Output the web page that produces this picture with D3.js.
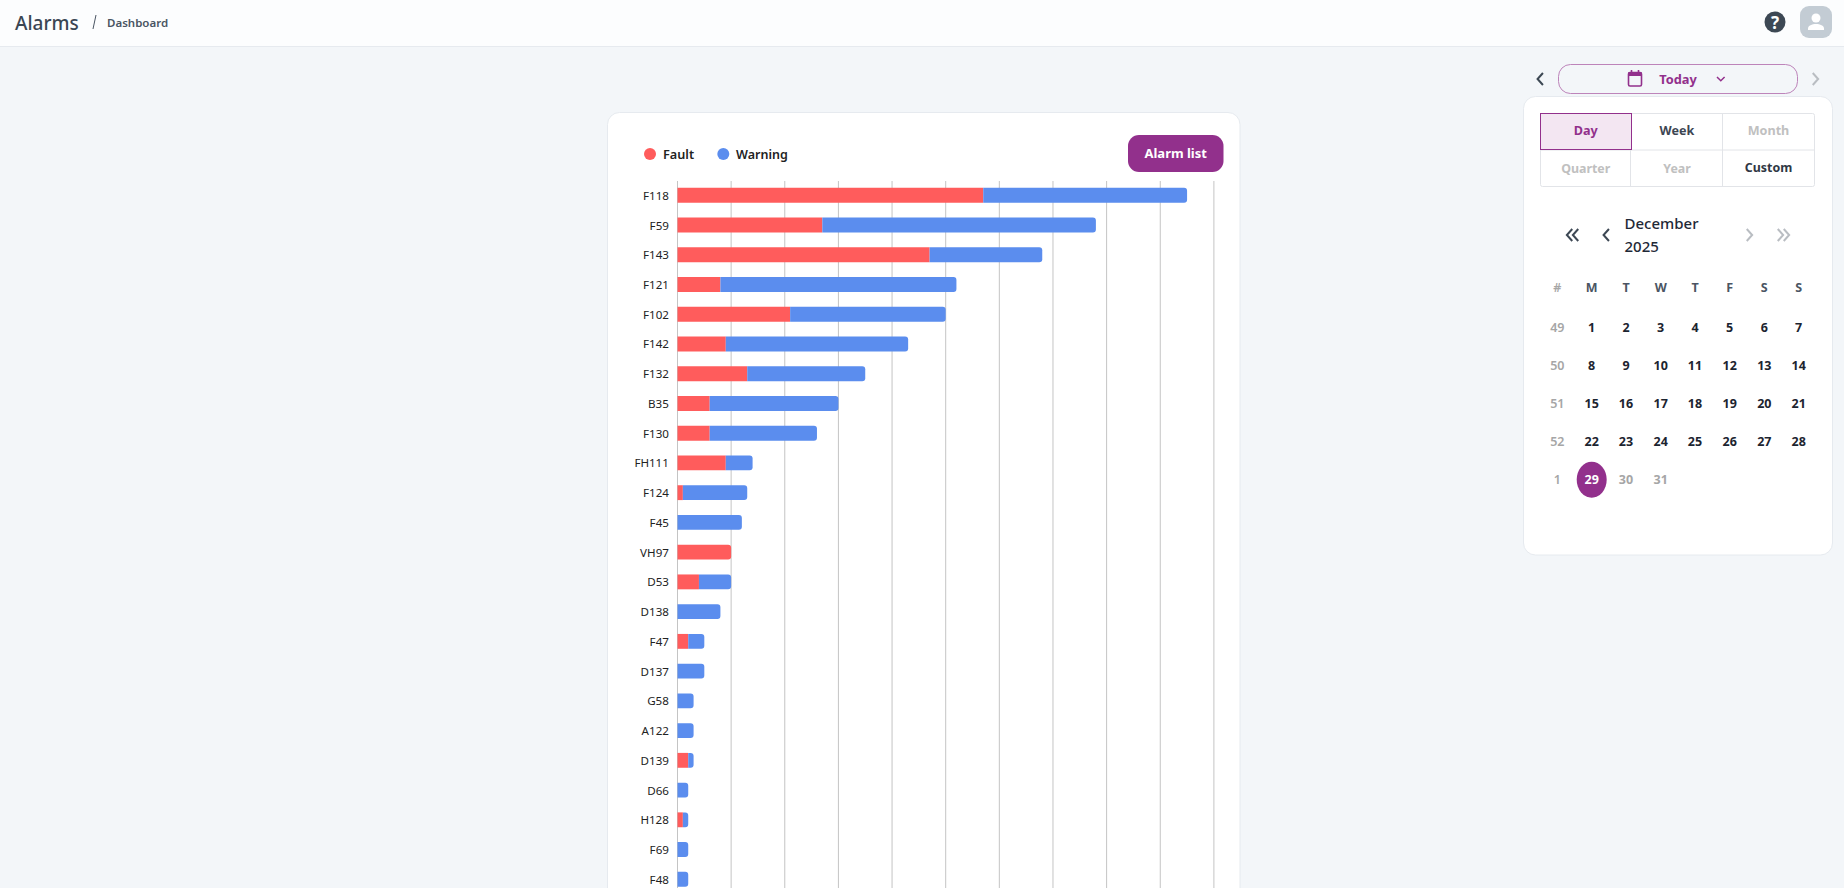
<!DOCTYPE html>
<html lang="en">
<head>
<meta charset="UTF-8" />
<title>Alarms</title>
<script src="https://cdnjs.cloudflare.com/ajax/libs/d3/7.8.5/d3.min.js"></script>
<style>
  html, body { margin: 0; padding: 0; background: #f3f6f9; overflow: hidden; }
  svg { display: block; font-family: "Noto Sans", sans-serif; }
  text { dominant-baseline: central; }
  .axis-y .domain, .axis-y .tick line { display: none; }
  .grid .domain { display: none; }
</style>
</head>
<body>
<div id="page"></div>
<script>
// chart values
const alarms = ['F118','F59','F143','F121','F102','F142','F132','B35','F130','FH111','F124','F45','VH97','D53','D138','F47','D137','G58','A122','D139','D66','H128','F69','F48'];
const faults = [57,27,47,8,21,9,13,6,6,9,1,0,10,4,0,2,0,0,0,2,0,1,0,0];
const warnings = [38,51,21,44,29,34,22,24,20,5,12,12,0,6,8,3,5,3,3,1,2,1,2,2];
const tickValues = [0,10,20,30,40,50,60,70,80,90,100];

// calendar values
const tabsTop = ['Day','Week','Month'];
const tabsBottom = ['Quarter','Year','Custom'];
const weekHeader = ['#','M','T','W','T','F','S','S'];
const weekNumbers = [49,50,51,52,1];
const dayRows = [[1,2,3,4,5,6,7],[8,9,10,11,12,13,14],[15,16,17,18,19,20,21],[22,23,24,25,26,27,28],[29,30,31]];

const PURPLE = '#92308c', RED = '#ff5c5c', BLUE = '#5b8dee';

const svg = d3.select('#page').append('svg').attr('width', 1844).attr('height', 888);

function txt(x, y, s, size, weight, fill, anchor) {
  return svg.append('text').attr('x', x).attr('y', y).text(s)
    .attr('font-size', size).attr('font-weight', weight).attr('fill', fill)
    .attr('text-anchor', anchor || 'middle');
}

function chevron(x, y, dir, color, w) {
  const s = 4.5 * dir;
  svg.append('path').attr('d', `M${x - s / 2},${y - 6}L${x + s / 2 + s * 0.2},${y}L${x - s / 2},${y + 6}`)
    .attr('fill', 'none').attr('stroke', color).attr('stroke-width', w || 2);
}

// header
svg.append('rect').attr('width', 1844).attr('height', 46).attr('fill', '#fcfdfe');
svg.append('line').attr('x1', 0).attr('x2', 1844).attr('y1', 46.5).attr('y2', 46.5).attr('stroke', '#e6eaef');
txt(15, 23, 'Alarms', 19, 500, '#3a4553', 'start');
svg.append('line').attr('x1', 96).attr('y1', 15).attr('x2', 93).attr('y2', 29).attr('stroke', '#4a5563');
txt(107, 22.5, 'Dashboard', 11.5, 600, '#4a5563', 'start');

svg.append('circle').attr('cx', 1775).attr('cy', 22).attr('r', 10.5).attr('fill', '#3d4854');
txt(1775, 22, '?', 17, 700, '#fff');
svg.append('rect').attr('x', 1800).attr('y', 6).attr('width', 32).attr('height', 32).attr('rx', 9).attr('fill', '#c3ccd4');
svg.append('circle').attr('cx', 1816).attr('cy', 18).attr('r', 4.5).attr('fill', '#fff');
svg.append('path').attr('d', 'M1808,30v-1.5c0,-3 4,-4.5 8,-4.5s8,1.5 8,4.5v1.5z').attr('fill', '#fff');

// chart card
svg.append('rect').attr('x', 607.5).attr('y', 112.5).attr('width', 632.5).attr('height', 820).attr('rx', 12)
  .attr('fill', '#fff').attr('stroke', '#e6eaef');

svg.append('circle').attr('cx', 650).attr('cy', 154).attr('r', 6).attr('fill', RED);
txt(663, 154, 'Fault', 12.7, 600, '#222', 'start');
svg.append('circle').attr('cx', 723.3).attr('cy', 154).attr('r', 6).attr('fill', BLUE);
txt(736, 154, 'Warning', 12.5, 600, '#222', 'start');

svg.append('rect').attr('x', 1128).attr('y', 135).attr('width', 95.5).attr('height', 37).attr('rx', 11).attr('fill', PURPLE);
txt(1175.7, 153, 'Alarm list', 13, 700, '#fff');

const x = d3.scaleLinear().domain([0, 100]).range([677, 1213.4]);
const y = d3.scaleBand().domain(alarms).range([180.4, 180.4 + 29.74 * alarms.length])
  .paddingInner(0.5).paddingOuter(0.25);

svg.append('g').attr('class', 'grid')
  .attr('transform', 'translate(0,181)')
  .call(d3.axisBottom(x).tickValues(tickValues).tickSize(707).tickFormat(''))
  .selectAll('.tick line').attr('stroke', '#c4c4c4').attr('stroke-width', 1);

const bh = y.bandwidth();

// right end of a stack is rounded, the left end stays square
function barPath(x0, x1, top, rounded) {
  const p = d3.path();
  const r = Math.min(3, x1 - x0);
  p.moveTo(x0, top);
  if (rounded) {
    p.lineTo(x1 - r, top);
    p.arcTo(x1, top, x1, top + r, r);
    p.lineTo(x1, top + bh - r);
    p.arcTo(x1, top + bh, x1 - r, top + bh, r);
  } else {
    p.lineTo(x1, top);
    p.lineTo(x1, top + bh);
  }
  p.lineTo(x0, top + bh);
  p.closePath();
  return p.toString();
}

// bars start just right of the zero line
const rows = svg.append('g').attr('transform', 'translate(0.5,0)').selectAll('g').data(alarms).join('g');
rows.filter((d, i) => faults[i] > 0).append('path')
  .attr('fill', RED)
  .attr('d', d => {
    const i = alarms.indexOf(d);
    return barPath(x(0), x(faults[i]), y(d), warnings[i] === 0);
  });
rows.filter((d, i) => warnings[i] > 0).append('path')
  .attr('fill', BLUE)
  .attr('d', d => {
    const i = alarms.indexOf(d);
    return barPath(x(faults[i]), x(faults[i] + warnings[i]), y(d), true);
  });

const axisY = svg.append('g').attr('class', 'axis-y')
  .attr('transform', 'translate(677.4,0)')
  .call(d3.axisLeft(y).tickSize(0).tickPadding(8.5));
axisY.selectAll('text').attr('font-size', 11.6).attr('fill', '#222').attr('dy', 0)
  .attr('font-family', '"Noto Sans", sans-serif');

// date selector
chevron(1540.7, 79, -1, '#3d4854');
svg.append('rect').attr('x', 1558.5).attr('y', 64.5).attr('width', 239).attr('height', 29).attr('rx', 12)
  .attr('fill', 'none').attr('stroke', '#bd84ba');
svg.append('rect').attr('x', 1628.5).attr('y', 72.5).attr('width', 13).attr('height', 13.5).attr('rx', 1.5)
  .attr('fill', 'none').attr('stroke', PURPLE).attr('stroke-width', 1.6);
svg.append('rect').attr('x', 1628.5).attr('y', 72).attr('width', 13).attr('height', 4).attr('fill', PURPLE);
svg.append('path').attr('d', 'M1631.5,70v3M1638.5,70v3').attr('stroke', PURPLE).attr('stroke-width', 1.6);
txt(1678, 79, 'Today', 12.8, 700, PURPLE);
svg.append('path').attr('d', 'M1717,77l3.8,3.8l3.8,-3.8').attr('fill', 'none').attr('stroke', PURPLE).attr('stroke-width', 1.5);
chevron(1815, 79, 1, '#b9bdc2');

// calendar card
svg.append('rect').attr('x', 1523.5).attr('y', 96.5).attr('width', 309).attr('height', 458.5).attr('rx', 12)
  .attr('fill', '#fff').attr('stroke', '#e6eaef');

const tabX = [1540, 1631.5, 1722.5, 1814.5];
const tabColors = { Week: '#3d4653', Custom: '#2f3744' };
svg.append('rect').attr('x', 1540.5).attr('y', 113.5).attr('width', 274).attr('height', 73).attr('rx', 2)
  .attr('fill', 'none').attr('stroke', '#e2e4e8');
svg.append('line').attr('x1', 1540).attr('x2', 1814).attr('y1', 150).attr('y2', 150).attr('stroke', '#e2e4e8');
svg.append('path').attr('d', 'M1722.5,113.5V186.5M1630.5,150V186.5').attr('stroke', '#e2e4e8');
svg.append('rect').attr('x', 1540.5).attr('y', 113.5).attr('width', 91).attr('height', 36).attr('fill', '#f3e6f2').attr('stroke', PURPLE);
tabsTop.forEach((t, i) => {
  txt((tabX[i] + tabX[i + 1]) / 2, 130.8, t, 12.6, 700, t === 'Day' ? PURPLE : (tabColors[t] || '#c0c0c0'));
});
tabsBottom.forEach((t, i) => {
  txt((tabX[i] + tabX[i + 1]) / 2, t === 'Custom' ? 167 : 168.5, t, 12.4, 700, tabColors[t] || '#c0c0c0');
});

// month navigation
chevron(1570, 235, -1, '#3d4854');
chevron(1576, 235, -1, '#3d4854');
chevron(1606.7, 235, -1, '#3d4854');
txt(1624.5, 223, 'December', 15, 500, '#1f2937', 'start');
txt(1624.5, 246, '2025', 15, 500, '#1f2937', 'start');
chevron(1749, 235, 1, '#b9bdc2');
chevron(1780, 235, 1, '#b9bdc2');
chevron(1786, 235, 1, '#b9bdc2');

// days
const colX = [1557.3, 1591.7, 1626, 1660.7, 1695, 1729.7, 1764.3, 1798.7];
const rowY = [327.7, 365.7, 403.7, 441.7, 479.7];
weekHeader.forEach((h, i) => txt(colX[i], 287.3, h, 12.5, i === 0 ? 600 : 700, i === 0 ? '#a6a6a6' : '#4b5563'));
weekNumbers.forEach((w, i) => txt(colX[0], rowY[i], w, 12.5, 600, '#a6a6a6'));
svg.append('ellipse').attr('cx', colX[1]).attr('cy', rowY[4]).attr('rx', 15).attr('ry', 18).attr('fill', PURPLE);
dayRows.forEach((row, r) => row.forEach((d, c) => {
  const fill = d === 29 ? '#fff' : d > 29 ? '#a6a6a6' : '#1c2430';
  txt(colX[c + 1], rowY[r], d, 12.5, 700, fill);
}));
</script>
</body>
</html>
